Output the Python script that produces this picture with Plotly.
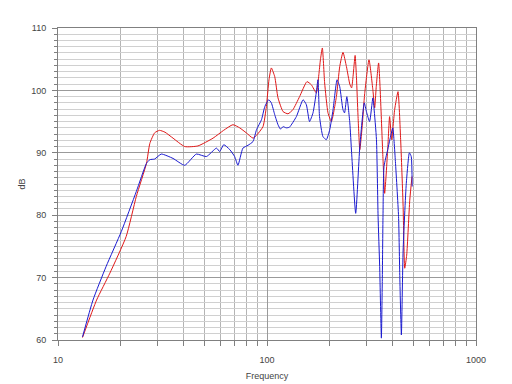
import plotly.graph_objects as go

# ---- data ----
red_freq = [13.1, 15.3, 17.7, 21.2, 23.7, 26.5, 27.5, 29.0, 30.6, 32.5, 35.5, 40.4, 46.7,
            55.2, 62.0, 68.7, 74.0, 79.6, 85.7, 89.1, 95.7, 99.3, 102.2, 104.9, 108.9,
            112.9, 119.4, 126.0, 133.0, 143.2, 155.3, 163.0, 172.2, 177.0, 180.1, 184.0,
            188.7, 195.8, 203.3, 214.8, 222.8, 231.0, 240.0, 249.0, 254.0, 258.0, 264.0,
            268.0, 272.5, 278.0, 285.0, 293.4, 307.6, 321.0, 327.5, 333.0, 342.0,
            359.0, 365.6, 378.0, 386.0, 395.0, 408.0, 423.5, 436.0, 448.0, 456.0, 466.0,
            482.0, 494.0]
red_db = [60.4, 66.4, 70.7, 76.6, 83.0, 88.3, 91.5, 93.2, 93.6, 93.3, 92.35, 91.0, 91.1,
          92.35, 93.6, 94.5, 94.0, 93.2, 92.35, 92.8, 94.2, 97.4, 101.7, 103.6, 102.2,
          98.8, 96.6, 96.25, 96.9, 99.0, 101.4, 100.9, 99.6, 102.5, 104.9, 106.8,
          101.2, 96.4, 95.0, 99.0, 103.8, 106.1, 103.8, 101.0, 100.4, 102.2, 105.6,
          102.0, 96.0, 90.5, 94.0, 99.5, 104.9, 100.1, 97.2, 100.5, 104.4,
          88.9, 83.5, 90.5, 95.8, 92.1, 96.9, 99.8, 92.1, 81.4, 71.5, 73.6,
          82.4, 86.2]

blue_freq = [13.1, 14.7, 17.0, 20.1, 23.7, 26.5, 27.5, 29.0, 31.2, 35.5, 40.4, 45.9, 51.3,
             57.3, 59.4, 62.1, 66.4, 70.0, 72.6, 76.7, 81.1, 85.7, 89.1, 94.1, 97.6,
             101.9, 104.9, 108.9, 112.9, 116.0, 119.4, 123.5, 128.0, 138.2, 148.8, 154.3,
             159.8, 166.0, 172.0, 175.3, 178.4, 185.2, 192.3, 199.6, 207.0, 216.4, 222.8,
             231.0, 235.0, 241.0, 249.0, 254.0, 265.7, 278.0, 292.0, 299.0, 309.6,
             321.0, 325.0, 334.0, 340.0, 346.0, 352.6, 356.0, 359.0, 363.0, 378.0, 400.0,
             405.0, 411.0, 426.0, 432.0, 439.5, 448.0, 464.0, 480.0, 490.0, 495.0]
blue_db = [60.5, 66.4, 71.8, 77.4, 83.8, 88.3, 88.9, 89.0, 89.8, 89.1, 88.0, 89.8, 89.4,
           90.75, 90.2, 91.3, 90.5, 89.4, 88.0, 90.75, 91.2, 91.8, 93.7, 95.3, 97.4,
           98.5, 98.0, 96.1, 94.5, 93.8, 94.2, 94.0, 94.1, 95.8, 98.5, 97.7,
           95.0, 96.4, 99.6, 101.7, 95.8, 92.6, 92.1, 93.7, 96.9, 101.7, 100.6,
           96.9, 96.4, 99.0, 94.8, 90.0, 80.3, 91.0, 98.0, 96.6, 95.0,
           98.8, 97.2, 92.1, 79.8, 71.8, 60.3, 69.0, 80.0, 87.8, 90.5, 94.0,
           92.1, 88.9, 79.8, 70.0, 60.8, 74.4, 85.1, 90.0, 89.4, 84.6]

x_tick_vals = [10, 100, 1000]
x_tick_text = ["10", "100", "1000"]
y_tick_vals = [60, 70, 80, 90, 100, 110]
y_tick_text = ["60", "70", "80", "90", "100", "110"]

# minor vertical grid positions (2..9 per decade)
x_minor = [m * d for d in (10, 100) for m in range(2, 10)]

fig = go.Figure()
fig.add_trace(go.Scatter(x=red_freq, y=red_db, mode="lines",
                         line=dict(color="#e01818", width=1, shape="spline", smoothing=0.5),
                         showlegend=False))
fig.add_trace(go.Scatter(x=blue_freq, y=blue_db, mode="lines",
                         line=dict(color="#1a1ad0", width=1, shape="spline", smoothing=0.5),
                         showlegend=False))

font = dict(family="Liberation Sans, Arial, sans-serif", size=9, color="#444444")

fig.update_layout(
    width=512, height=384,
    margin=dict(l=58, r=36, t=28, b=44, autoexpand=False),
    paper_bgcolor="white", plot_bgcolor="white",
    font=font,
    xaxis=dict(
        type="log", range=[1, 3],
        tickmode="array", tickvals=x_tick_vals, ticktext=x_tick_text,
        ticks="outside", ticklen=5, tickcolor="#808080", tickwidth=1,
        ticklabelstandoff=6,
        showgrid=True, gridcolor="#9a9a9a", gridwidth=1,
        minor=dict(tickmode="array", tickvals=x_minor, ticks="outside", ticklen=5,
                   tickcolor="#808080", showgrid=True, gridcolor="#b4b4b4", gridwidth=1),
        showline=True, linecolor="#808080", linewidth=1, mirror=True,
        zeroline=False, tickfont=font,
        title=dict(text="Frequency", font=font, standoff=8),
    ),
    yaxis=dict(
        range=[60, 110],
        tickmode="array", tickvals=y_tick_vals, ticktext=y_tick_text,
        ticks="outside", ticklen=5, tickcolor="#808080", tickwidth=1,
        ticklabelstandoff=4,
        showgrid=True, gridcolor="#9a9a9a", gridwidth=1,
        minor=dict(dtick=1, ticks="outside", ticklen=3, tickcolor="#808080",
                   showgrid=True, gridcolor="#d0d0d0", gridwidth=1),
        showline=True, linecolor="#808080", linewidth=1, mirror=True,
        zeroline=False, tickfont=font,
        title=dict(text="dB", font=font, standoff=4),
    ),
)

fig.write_html("out.html")
